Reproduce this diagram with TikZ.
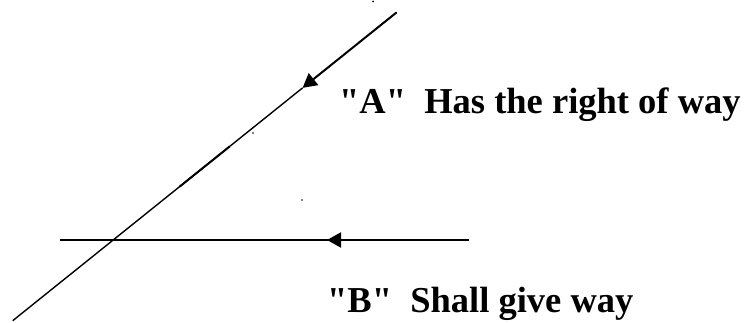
\documentclass[tikz,border=0pt]{standalone}
\usepackage{fontspec}
\setmainfont{Liberation Serif}[Ligatures=TeXOff]
\usetikzlibrary{arrows.meta,calc}
\tikzset{
  road/.style={draw=black, line width=1.4pt},
  roadthick/.style={draw=black, line width=2pt},
  lbl/.style={font=\fontsize{36.5}{40}\selectfont\bfseries, inner sep=0pt, anchor=base west},
  tip/.style={-{Triangle[length=14pt,width=15pt]}},
  speck/.style={fill=black, draw=none}
}
\begin{document}
\begin{tikzpicture}[x=1pt,y=1pt]
\useasboundingbox (0,0) rectangle (747,322);
% diagonal road (A)
\coordinate (abot) at (12.7,1.3);
\coordinate (atop) at (396.7,309.7);
\coordinate (atip) at ($(abot)!0.755!(atop)$);
\coordinate (am1) at ($(abot)!0.435!(atop)$);
\coordinate (am2) at ($(abot)!0.565!(atop)$);
% horizontal road (B)
\coordinate (bl) at (60,82);
\coordinate (br) at (469,82);
\coordinate (btip) at (327,82);
\coordinate (bthk) at (422,82);
\coordinate (bm1) at (228,82);
\coordinate (bm2) at (277,82);
\draw[road] (atip) -- (abot);
\draw[roadthick] (am1) -- (am2);
\draw[roadthick, tip] (atop) -- (atip);
\draw[road] (bl) -- (br);
\draw[roadthick] (bm1) -- (bm2);
\draw[roadthick, tip] (bthk) -- (btip);
% labels
\node[lbl] (la) at (339,209) {"A"\hspace{0.5em}Has the right of way};
\node[lbl] (lb) at (327,10) {"B"\hspace{0.5em}Shall give way};
% specks
\fill[speck] (373,320.5) circle (1pt);
\fill[speck] (253,189) circle (0.8pt);
\fill[speck] (302,122) circle (0.8pt);
\end{tikzpicture}
\end{document}
